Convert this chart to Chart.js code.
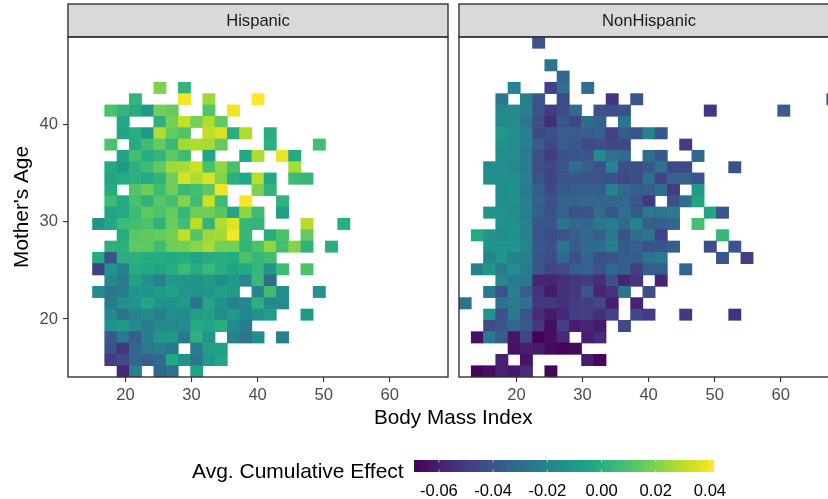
<!DOCTYPE html>
<html><head><meta charset="utf-8">
<style>
html,body{margin:0;padding:0;background:#fff;width:828px;height:499px;overflow:hidden}
#wrap{position:relative;width:828px;height:499px;overflow:hidden;font-family:"Liberation Sans",Arial,sans-serif}
canvas{position:absolute;display:block}
.t{position:absolute;white-space:nowrap;color:#000;line-height:1}
</style>
<script src="https://cdn.jsdelivr.net/npm/chart.js@4/dist/chart.umd.min.js"></script>
</head><body><div id="wrap">
<canvas id="c1" width="450" height="410" style="left:0;top:0;width:450px;height:410px"></canvas>
<canvas id="c2" width="400" height="410" style="left:450px;top:0;width:400px;height:410px"></canvas>
<canvas id="c3" width="360" height="49" style="left:380px;top:450px;width:360px;height:49px"></canvas>
<div class="t" id="xt" style="left:374px;top:407px;font-size:20.7px">Body Mass Index</div>
<div class="t" id="lt" style="left:192px;top:460px;font-size:21px">Avg. Cumulative Effect</div>
</div>
<script>
const _ = null;
// Bin centres of Body Mass Index (columns) and edges of Mother's Age (rows, top to bottom)
const bmiBins = [12.22,14.07,15.93,17.78,19.64,21.50,23.35,25.21,27.06,28.92,30.78,32.63,34.49,36.34,38.20,40.06,41.91,43.77,45.62,47.48,49.34,51.19,53.05,54.90,56.76,58.62,60.47,62.33,64.18,66.04,67.90];
const ageEdges = [49.00,47.83,46.67,45.50,44.34,43.17,42.01,40.84,39.68,38.51,37.35,36.18,35.02,33.85,32.68,31.52,30.35,29.19,28.02,26.86,25.69,24.53,23.36,22.20,21.03,19.87,18.70,17.53,16.37,15.20,14.04];
const panelTitles = ["Hispanic","NonHispanic"];
const bmiTicks = [20,30,40,50,60];
const ageTicks = [20,30,40];
const legendTicks = [-0.06,-0.04,-0.02,0,0.02,0.04];
const effectMin = -0.0692, effectMax = 0.0415;
const viridis = ["#440154","#482475","#414487","#355F8D","#2A788E","#21918C","#22A884","#44BF70","#7AD151","#BDDF26","#FDE725"];

// Average cumulative effect, in thousandths, row by row from the top
const hispanic = [
[],[],[],[],
[_,_,_,_,_,_,_,20,_,3],
[_,_,_,_,_,3,_,_,_,40,_,25,_,_,_,41],
[_,_,_,10,3,-1,-10,18,15,_,_,11,_,39],
[_,_,_,_,-3,_,_,1,18,32,19,28,14],
[_,_,_,_,-4,0,-11,28,15,11,_,31,35,0,28,_,0],
[_,_,_,10,_,-1,7,15,5,26,28,27,15,_,_,_,1,_,_,_,8],
[_,_,_,_,-4,8,0,3,14,7,_,-4,_,_,-3,28,_,38,-2],
[_,_,_,-2,-10,1,6,14,26,27,33,9,23,9,_,_,_,_,27],
[_,_,_,-4,-1,1,-2,2,17,34,28,35,21,1,-3,30,-3,_,6,4],
[_,_,_,-1,_,11,16,7,17,5,8,14,39,_,_,20,3],
[_,_,_,7,-2,9,2,12,8,21,6,33,7,_,40,_,_,2],
[_,_,_,-5,-2,6,14,10,15,4,17,17,12,-4,23,7,_,-7],
[_,_,-12,-3,6,8,10,2,16,8,30,3,28,36,4,3,_,_,_,29,_,_,0],
[_,_,_,_,-1,13,14,15,18,31,11,25,26,40,4,_,-1,10,_,15],
[_,_,_,1,1,14,14,7,17,18,22,27,18,18,2,10,23,8,21,2,_,0],
[_,_,-2,-41,0,1,-1,-1,-3,-1,-4,-1,0,-2,10,4,8],
[_,_,-49,-12,-22,-1,-3,-4,-1,6,-1,5,0,-5,-3,4,-12,6,_,10],
[_,_,_,-18,-23,-6,-14,-22,-10,-11,-13,-9,-15,-10,-18,5,-30],
[_,_,-17,-26,-23,-12,-12,-9,-6,-12,-13,-12,-6,-9,_,-20,7,-15,_,_,-12],
[_,_,_,-24,-14,-12,-4,-14,-14,-9,-27,-4,-13,-22,-18,1,-17,-17],
[_,_,_,-17,-27,-20,-18,-22,-16,-17,-8,-6,-15,-9,-19,-12,-8,_,_,-10],
[_,_,_,-14,-10,-16,-23,-17,-17,-16,-2,-4,0,-16,-23],
[_,_,_,-38,-24,-37,-22,-11,-10,-25,1,-12,_,-20,-27,-15,_,-22],
[_,_,_,-41,-52,-32,-24,-21,-26,_,-24,-7,-6],
[_,_,_,-50,-44,-33,-36,-31,-3,-14,-26,-10,-4],
[_,_,_,_,-57,-21,_,-32,-28,_,-5]
];
const nonHispanic = [
[_,_,_,_,_,_,-41],
[],
[_,_,_,_,_,_,_,-27],
[_,_,_,_,_,_,_,_,-33],
[_,_,_,_,-20,_,_,-48,-29,_,-29],
[_,_,_,-25,_,-21,-40,_,-44,_,_,_,-53,_,-40,_,_,_,_,_,_,_,_,_,_,_,_,_,_,_,-38],
[_,_,_,-18,-17,-21,-41,-50,-44,-30,_,-41,-43,-42,_,_,_,_,_,_,-52,_,_,_,_,_,-37],
[_,_,_,-18,-17,-27,-43,-55,-39,-46,-30,-34,_,-26],
[_,_,_,-10,-16,-22,-45,-43,-37,-37,-37,-36,-48,-38,-40,-20,-40],
[_,_,_,-13,-15,-22,-37,-46,-37,-39,-45,-43,-46,-45,_,_,_,_,-50],
[_,_,_,-15,-15,-23,-43,-50,-42,-41,-41,-17,-28,-31,_,-29,-39,_,_,-32],
[_,_,-15,-16,-18,-23,-43,-46,-41,-30,-36,-42,-20,-43,-43,-39,-28,-45,-44,_,_,_,-42],
[_,_,-15,-15,-15,-22,-41,-47,-40,-40,-41,-41,-42,-45,-44,-28,-47,-34,-35,-41],
[_,_,_,-15,-14,-24,-36,-45,-38,-37,-36,-37,-20,-31,-36,-36,-30,-50,_,-10],
[_,_,_,-15,-14,-21,-34,-42,-34,-34,-32,-33,-33,-33,-40,-51,_,-42,-29,-4],
[_,_,-12,-12,-16,-21,-36,-42,-35,-42,-41,-31,-39,-29,-38,-24,-26,-24,_,_,-4,-40],
[_,_,_,-13,-13,-20,-40,-41,-27,-32,-33,-25,-23,-31,-21,-36,-37,-33,_,9],
[_,-2,-12,-15,-14,-20,-40,-44,-41,-37,-32,-36,-25,-41,-30,-25,-48,_,_,_,_,4],
[_,_,-12,-12,-12,-19,-38,-42,-26,-37,-32,-30,-21,-38,-36,-41,-41,-37,_,_,-43,_,-40],
[_,_,-20,-12,-20,-20,-39,-44,-32,-43,-33,-42,-41,-37,-37,-27,-24,_,_,_,_,-40,_,-49],
[_,-21,-11,-23,-15,-23,-40,-47,-44,-36,-35,-41,-32,-37,-49,-37,-36,_,-33],
[_,_,_,-18,-24,-25,-58,-58,-54,-52,-50,-55,-42,-58,-52,_,-58],
[_,_,-24,-41,-22,-37,-53,-61,-54,-52,-39,-58,-53,-27,_,-42],
[-27,_,_,-27,-24,-28,-52,-52,-54,-50,-49,-46,-60,_,-58],
[_,_,-12,-42,-25,-40,-56,-61,-57,-49,-49,-54,-48,_,-46,-50,_,_,-51,_,_,_,-54],
[_,_,-44,-39,-33,-38,-51,-65,-49,-60,-58,-61,_,-45],
[_,-64,-24,-36,-63,-47,-69,-64,-56,_,-60,-56],
[_,_,_,_,-64,-60,-61,-66,-68,-67],
[_,_,_,-59,_,-63,_,_,_,_,-60,-67],
[_,-68,-65,-59,-62,-56,_,-68]
];

Chart.defaults.font.family = '"Liberation Sans",Arial,sans-serif';
Chart.defaults.animation = false;

const hexRgb = h => [1,3,5].map(i => parseInt(h.substr(i,2),16));
function effectColor(v){
  let t = (v - effectMin) / (effectMax - effectMin) * (viridis.length - 1);
  t = Math.max(0, Math.min(viridis.length - 1.0001, t));
  const i = Math.floor(t), f = t - i, a = hexRgb(viridis[i]), b = hexRgb(viridis[i+1]);
  return `rgb(${a.map((c,k)=>Math.round(c+(b[k]-c)*f)).join(",")})`;
}
function cells(grid){
  const out = [];
  grid.forEach((row,r) => row.forEach((val,c) => {
    if (val != null) out.push({x: bmiBins[c], y: [ageEdges[r+1], ageEdges[r]], effect: val/1000});
  }));
  return out;
}
const BORDER = "#333333";
const panelFrame = {
  id: "panelFrame",
  beforeDraw(chart){
    const a = chart.chartArea, c = chart.ctx;
    c.save(); c.fillStyle = "#D9D9D9"; c.fillRect(a.left, 4, a.right-a.left, a.top-4); c.restore();
  },
  afterDraw(chart){
    const a = chart.chartArea, c = chart.ctx;
    c.save(); c.strokeStyle = BORDER; c.lineWidth = 1.4;
    c.strokeRect(a.left, 4, a.right-a.left, a.top-4);
    c.strokeRect(a.left, a.top, a.right-a.left, a.bottom-a.top);
    c.restore();
  }
};
function panel(id, grid, title, showY, pad){
  const data = cells(grid);
  return new Chart(document.getElementById(id), {
    type: "bar",
    data: {datasets: [{
      data,
      backgroundColor: data.map(d => effectColor(d.effect)),
      barThickness: 12.26, borderWidth: 0
    }]},
    plugins: [panelFrame],
    options: {
      responsive: false,
      layout: {padding: pad},
      plugins: {
        legend: {display:false}, tooltip: {enabled:false},
        title: {display:true, text:title, fullSize:false, color:"#1A1A1A",
          font:{size:16.6, weight:"normal", lineHeight:1.2}, padding:{top:7.5,bottom:5.5}}
      },
      scales: {
        x: {type:"linear", offset:false, min:11.29, max:68.83,
          border:{display:false}, grid:{offset:false, drawOnChartArea:false, drawTicks:true, tickLength:5, color:BORDER, lineWidth:1.1},
          afterBuildTicks: s => { s.ticks = bmiTicks.map(v => ({value:v})); },
          ticks:{color:"#4D4D4D", font:{size:16.6}, padding:3.5, autoSkip:false, maxRotation:0, includeBounds:false},
          afterFit: s => { s.height = 33; }},
        y: {type:"linear", display:showY, min:14.04, max:49.00,
          border:{display:false}, grid:{drawOnChartArea:false, tickLength:5, color:BORDER, lineWidth:1.1},
          title:{display:true, text:"Mother's Age", color:"#000", font:{size:20.8}, padding:{top:10,bottom:0}},
          afterBuildTicks: s => { s.ticks = ageTicks.map(v => ({value:v})); },
          ticks:{color:"#4D4D4D", font:{size:16.6}, padding:5, autoSkip:false, includeBounds:false},
          afterFit: s => { if (showY) s.width = 68; }}
      }
    }
  });
}
panel("c1", hispanic, panelTitles[0], true, {left:0,right:2,top:4,bottom:0});
panel("c2", nonHispanic, panelTitles[1], false, {left:9,right:11,top:4,bottom:0});

const barTicks = {
  id:"barTicks",
  afterDraw(chart){
    const a = chart.chartArea, c = chart.ctx, x = chart.scales.x, h = 2.4;
    c.save(); c.strokeStyle = "#fff"; c.lineWidth = 0.6;
    legendTicks.forEach(v => { const p = x.getPixelForValue(v);
      c.beginPath(); c.moveTo(p,a.top); c.lineTo(p,a.top+h); c.moveTo(p,a.bottom-h); c.lineTo(p,a.bottom); c.stroke(); });
    c.restore();
  }
};
new Chart(document.getElementById("c3"), {
  type:"bar",
  data:{labels:[""], datasets:[{
    data:[[effectMin,effectMax]],
    barPercentage:1, categoryPercentage:1, borderWidth:0, inflateAmount:0,
    backgroundColor(ctx){
      const a = ctx.chart.chartArea; if(!a) return viridis[0];
      const g = ctx.chart.ctx.createLinearGradient(a.left,0,a.right,0);
      viridis.forEach((col,i) => g.addColorStop(i/(viridis.length-1), col));
      return g;
    }
  }]},
  plugins:[barTicks],
  options:{
    indexAxis:"y", responsive:false,
    layout:{padding:{left:34,right:26,top:10,bottom:0}},
    plugins:{legend:{display:false},tooltip:{enabled:false}},
    scales:{
      y:{display:false},
      x:{type:"linear", min:effectMin, max:effectMax, border:{display:false}, grid:{display:false, drawTicks:false},
        afterBuildTicks: s => { s.ticks = legendTicks.map(v => ({value:v})); },
        ticks:{color:"#000", font:{size:16.6}, padding:9.5, autoSkip:false, maxRotation:0,
          callback:v => (Math.round(v*100)/100).toFixed(2)},
        afterFit: s => { s.height = 27; }}
    }
  }
});
</script></body></html>
